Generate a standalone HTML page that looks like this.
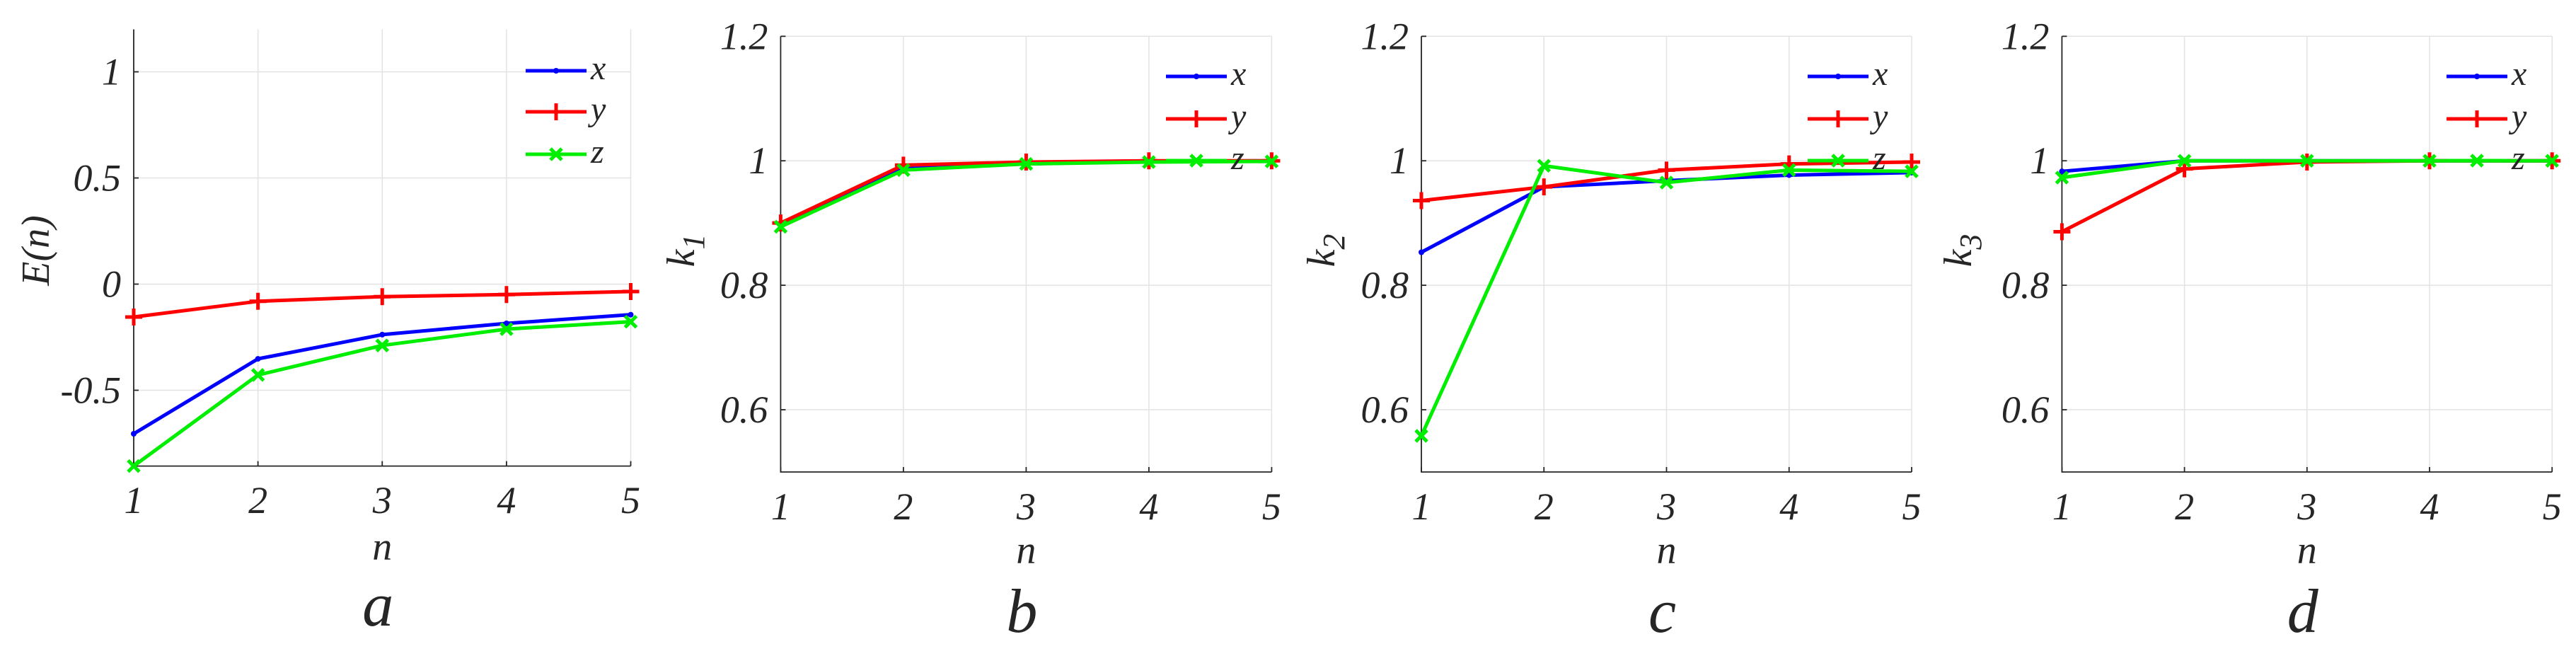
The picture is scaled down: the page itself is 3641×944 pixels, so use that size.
<!DOCTYPE html>
<html><head><meta charset="utf-8"><style>
html,body{margin:0;padding:0;background:#fff;}
svg{display:block;}
svg text{font-family:"Liberation Serif","DejaVu Serif",serif !important;font-style:italic;fill:#262626;}
</style></head>
<body>
<svg id="fig" width="3641" height="944" viewBox="0 0 3641 944" xmlns="http://www.w3.org/2000/svg"></svg>
<script>
const nValues = [1, 2, 3, 4, 5];
const seriesNames = ["x", "y", "z"];
const aX = [-0.705, -0.352, -0.238, -0.185, -0.144];
const aY = [-0.155, -0.081, -0.059, -0.049, -0.035];
const aZ = [-0.857, -0.428, -0.289, -0.212, -0.177];
const bX = [0.896, 0.988, 0.995, 0.999, 1.0];
const bY = [0.900, 0.993, 0.998, 1.0, 1.0];
const bZ = [0.894, 0.985, 0.995, 0.998, 0.999];
const cX = [0.853, 0.958, 0.968, 0.977, 0.981];
const cY = [0.936, 0.958, 0.985, 0.995, 0.998];
const cZ = [0.558, 0.992, 0.965, 0.985, 0.983];
const dX = [0.983, 1.0, 1.0, 1.0, 1.0];
const dY = [0.886, 0.987, 0.998, 1.0, 1.0];
const dZ = [0.973, 1.0, 1.0, 1.0, 1.0];
const aTicks = [-0.5, 0, 0.5, 1];
const aTickLabels = ["-0.5", "0", "0.5", "1"];
const kTicks = [0.6, 0.8, 1, 1.2];
const kTickLabels = ["0.6", "0.8", "1", "1.2"];

const NS = "http://www.w3.org/2000/svg";
const svg = document.getElementById("fig");
const FONT = "Liberation Serif, DejaVu Serif, serif";
function mk(tag, attrs, parent) {
  const e = document.createElementNS(NS, tag);
  for (const k in attrs) e.setAttribute(k, attrs[k]);
  if (tag === "text") { e.setAttribute("font-family", FONT); e.setAttribute("font-style", "italic"); }
  (parent || svg).appendChild(e);
  return e;
}
const colors = ["#0000ff", "#ff0000", "#00ee00"];
const LW = 5;

function marker(g, kind, cx, cy, color) {
  if (kind === 0) {
    const m = mk("circle", {cx: cx, cy: cy, r: 4, fill: color}, g);
    
    
  } else if (kind === 1) {
    const m = mk("path", {d: `M${cx-12},${cy}H${cx+12}M${cx},${cy-12}V${cy+12}`, stroke: color, "stroke-width": LW, fill: "none"}, g);
    
    
  } else {
    const m = mk("path", {d: `M${cx-8},${cy-8}L${cx+8},${cy+8}M${cx-8},${cy+8}L${cx+8},${cy-8}`, stroke: color, "stroke-width": LW, fill: "none"}, g);
    
    
  }
}

function panel(cfg, series, ticks, tickLabels) {
  const g = mk("g", {});
  
  
  const xs = v => cfg.L + (v - 1) / 4 * (cfg.R - cfg.L);
  const ys = v => cfg.T + (cfg.ymax - v) / (cfg.ymax - cfg.ymin) * (cfg.B - cfg.T);
  nValues.forEach(n => {
    const l = mk("line", {x1: xs(n), x2: xs(n), y1: cfg.T, y2: cfg.B, stroke: "#e3e3e3", "stroke-width": 1.5}, g);
    
    
  });
  ticks.forEach(t => {
    const l = mk("line", {x1: cfg.L, x2: cfg.R, y1: ys(t), y2: ys(t), stroke: "#e3e3e3", "stroke-width": 1.5}, g);
    
    
  });
  const ax = mk("path", {d: `M${cfg.L},${cfg.T}V${cfg.B}H${cfg.R}`, stroke: "#262626", "stroke-width": 1.8, fill: "none"}, g);
  
  
  nValues.forEach(n => {
    const tk = mk("line", {x1: xs(n), x2: xs(n), y1: cfg.B, y2: cfg.B - 7, stroke: "#262626", "stroke-width": 1.8}, g);
    
    
    const t = mk("text", {x: xs(n), y: cfg.xlabY + 18, "font-size": 54, "text-anchor": "middle"}, g);
    t.textContent = String(n);
    
    
  });
  ticks.forEach((tv, i) => {
    const tk = mk("line", {x1: cfg.L, x2: cfg.L + 7, y1: ys(tv), y2: ys(tv), stroke: "#262626", "stroke-width": 1.8}, g);
    
    
    const t = mk("text", {x: cfg.L - 18, y: ys(tv) + 18, "font-size": 54, "text-anchor": "end"}, g);
    t.textContent = tickLabels[i];
    
    
  });
  series.forEach((vals, si) => {
    const pts = vals.map((v, i) => xs(nValues[i]) + "," + ys(v)).join(" ");
    const pl = mk("polyline", {points: pts, stroke: colors[si], "stroke-width": LW, fill: "none", "stroke-linejoin": "round"}, g);
    
    
    vals.forEach((v, i) => marker(g, si, xs(nValues[i]), ys(v), colors[si]));
  });
  seriesNames.forEach((nm, si) => {
    const y = cfg.legY[si];
    const ln = mk("line", {x1: cfg.legX, x2: cfg.legX + 86, y1: y, y2: y, stroke: colors[si], "stroke-width": LW}, g);
    
    
    marker(g, si, cfg.legX + 43, y, colors[si]);
    const t = mk("text", {x: cfg.legX + 92, y: y + 12, "font-size": 48}, g);
    t.textContent = nm;
    
    
  });
  const nl = mk("text", {x: (cfg.L + cfg.R) / 2, y: cfg.nY + 15, "font-size": 56, "text-anchor": "middle"}, g);
  nl.textContent = "n";
  
  
  const yl = mk("text", {x: 0, y: 0, "font-size": 56, "text-anchor": "middle", transform: `translate(${cfg.yTitleX + 16},${354}) rotate(-90)`}, g);
  
  
  if (cfg.sub) {
    yl.textContent = "k";
    const s = mk("tspan", {dy: 14, "font-size": 44}, yl);
    s.textContent = cfg.sub;
  } else {
    yl.textContent = "E(n)";
  }
  const lt = mk("text", {x: (cfg.L + cfg.R) / 2 - 6, y: cfg.letY, "font-size": 88, "text-anchor": "middle"}, g);
  lt.textContent = cfg.letter;
  
  
}

panel({letter: "a", L: 189, R: 891.5, T: 41.5, B: 658.6, ymin: -0.857, ymax: 1.2, xlabY: 707, nY: 776, letY: 884, yTitleX: 53, legX: 743, legY: [100, 158, 218]}, [aX, aY, aZ], aTicks, aTickLabels);
panel({letter: "b", sub: "1", L: 1103.4, R: 1797.4, T: 51.3, B: 667, ymin: 0.5, ymax: 1.2, xlabY: 716, nY: 781, letY: 893, yTitleX: 965, legX: 1648, legY: [108, 168, 227]}, [bX, bY, bZ], kTicks, kTickLabels);
panel({letter: "c", sub: "2", L: 2009, R: 2702, T: 51.3, B: 667, ymin: 0.5, ymax: 1.2, xlabY: 716, nY: 781, letY: 893, yTitleX: 1870, legX: 2555, legY: [108, 168, 227]}, [cX, cY, cZ], kTicks, kTickLabels);
panel({letter: "d", sub: "3", L: 2914.4, R: 3607.2, T: 51.3, B: 667, ymin: 0.5, ymax: 1.2, xlabY: 716, nY: 781, letY: 893, yTitleX: 2770, legX: 3458, legY: [108, 168, 227]}, [dX, dY, dZ], kTicks, kTickLabels);
</script>
</body></html>
